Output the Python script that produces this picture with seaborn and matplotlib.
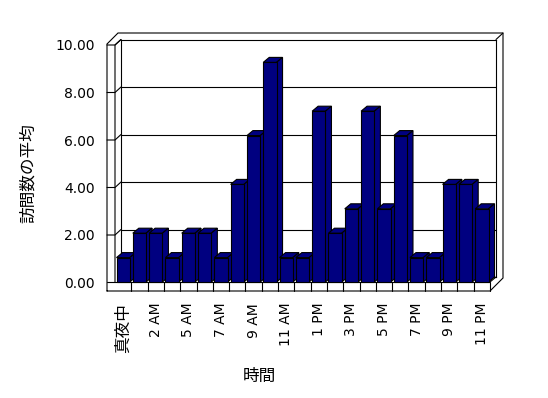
import matplotlib
matplotlib.use("Agg")
import matplotlib.pyplot as plt
from matplotlib.patches import Polygon
import seaborn as sns
import pandas as pd

# ---- data ----
categories = ['真夜中', '1 AM', '2 AM', '3 AM', '5 AM', '6 AM', '7 AM', '8 AM', '9 AM',
              '10 AM', '11 AM', '正午', '1 PM', '2 PM', '3 PM', '4 PM', '5 PM', '6 PM',
              '7 PM', '8 PM', '9 PM', '10 PM', '11 PM']
values = [1, 2, 2, 1, 2, 2, 1, 4, 6, 9, 1, 1, 7, 2, 3, 7, 3, 6, 1, 1, 4, 4, 3]
y_ticks = [0, 2, 4, 6, 8, 10]
y_tick_labels = ['0.00', '2.00', '4.00', '6.00', '8.00', '10.00']
x_label = '時間'
y_label = '訪問数の平均'

sns.set_theme(style='white')
plt.rcParams['font.family'] = ['DejaVu Sans', 'Noto Sans CJK JP']

W, H = 548, 398
fig = plt.figure(figsize=(W / 100, H / 100), dpi=100, facecolor='white')

def fr(x0, y_top, x1, y_bot):
    return [x0 / W, (H - y_bot) / H, (x1 - x0) / W, (y_bot - y_top) / H]

LW = 0.8
NAVY = '#000080'
n = len(categories)

# geometry (pixels)
BW_L, BW_R, BW_T, BW_B = 121, 496, 39.5, 277      # back wall
FR_L, FR_R, FR_T, FR_B = 115, 490, 38, 282        # front plane of bars
DX, DY = 6, 5                                       # depth offset

# back wall with gridlines
ax_back = fig.add_axes(fr(BW_L, BW_T, BW_R, BW_B), zorder=0)
ax_back.set_facecolor('white')
ax_back.set_xlim(0, 1)
ax_back.set_ylim(0, 10)
ax_back.set_xticks([])
ax_back.set_yticks(y_ticks[1:-1])
ax_back.tick_params(left=False, labelleft=False)
ax_back.grid(axis='y', color='black', lw=LW)
for s in ax_back.spines.values():
    s.set_color('black')
    s.set_linewidth(LW)

# frame (walls / floor) in pixel space
ax_frame = fig.add_axes([0, 0, 1, 1], zorder=1)
ax_frame.set_xlim(0, W)
ax_frame.set_ylim(H, 0)
ax_frame.axis('off')
ax_frame.patch.set_alpha(0)

def line(pts):
    xs, ys = zip(*pts)
    ax_frame.plot(xs, ys, color='black', lw=LW, solid_joinstyle='miter')

line([(107, 291), (107, 44), (118, 33), (503, 33), (503, 278), (490, 291), (107, 291)])
line([(115, 282), (115, 45), (BW_L, BW_T)])
line([(107, 282), (FR_R, 282), (FR_R, 291)])
line([(FR_R, 282), (BW_R, BW_B)])
line([(BW_R, BW_T), (503, 33)])
pitch = (FR_R - FR_L) / n
for k in range(1, n):
    xk = FR_L + pitch * k
    line([(xk, 282), (xk, 291)])
sc = (BW_B - BW_T) / 10
for v in y_ticks[1:]:
    yb = BW_B - sc * v
    line([(107, yb + 5.5), (115, yb + 5.5), (BW_L, yb)])

# bars (front plane)
ax = fig.add_axes(fr(FR_L, FR_T, FR_R, FR_B), zorder=2)
ax.patch.set_alpha(0)
df = pd.DataFrame({'hour': categories, 'value': values})
sns.barplot(data=df, x='hour', y='value', order=categories, color=NAVY,
            saturation=1, width=0.816, edgecolor='black', linewidth=LW, ax=ax)
ax.set_xlim(-0.5, n - 0.5)
ax.set_ylim(0, 10)
for s in ax.spines.values():
    s.set_visible(False)

px_x = (FR_R - FR_L) / n
px_y = (FR_B - FR_T) / 10
dx, dy = DX / px_x, DY / px_y
for i, p in enumerate(ax.patches):
    x0, w, h = p.get_x(), p.get_width(), p.get_height()
    z = 2 + i * 0.1
    p.set_zorder(z + 0.05)
    p.set_clip_on(False)
    top = Polygon([(x0, h), (x0 + w, h), (x0 + w + dx, h + dy), (x0 + dx, h + dy)],
                  closed=True, facecolor=NAVY, edgecolor='black', lw=LW, zorder=z, clip_on=False)
    side = Polygon([(x0 + w, 0), (x0 + w + dx, dy), (x0 + w + dx, h + dy), (x0 + w, h)],
                   closed=True, facecolor=NAVY, edgecolor='black', lw=LW, zorder=z, clip_on=False)
    ax.add_patch(top)
    ax.add_patch(side)

ax.set_xticks(range(0, n, 2))
ax.set_xticklabels(categories[::2], rotation=90, va='top', ha='center')
ax.tick_params(axis='x', length=0, pad=15, labelsize=10, colors='black')
ax.get_xticklabels()[0].set_fontsize(12)

ax.set_yticks([])
ax.set_xlabel(x_label, fontsize=12, color='black')
ax.xaxis.set_label_coords((259 - FR_L) / (FR_R - FR_L), (FR_B - 375.5) / (FR_B - FR_T))
ax.xaxis.label.set_va('center')
ax.set_ylabel(y_label, fontsize=12, color='black')
ax.yaxis.set_label_coords((27.5 - FR_L) / (FR_R - FR_L), (FR_B - 173) / (FR_B - FR_T))
ax.yaxis.label.set_va('center')

# y tick labels on the left wall front edge
ax_yl = fig.add_axes(fr(107, 45, 115, 282.5), zorder=1)
ax_yl.patch.set_alpha(0)
ax_yl.set_ylim(0, 10)
ax_yl.set_xticks([])
ax_yl.set_yticks(y_ticks)
ax_yl.set_yticklabels(y_tick_labels)
ax_yl.tick_params(axis='y', length=0, pad=9, labelsize=10, colors='black')
for s in ax_yl.spines.values():
    s.set_visible(False)

fig.savefig('out.png', dpi=100, facecolor='white')
